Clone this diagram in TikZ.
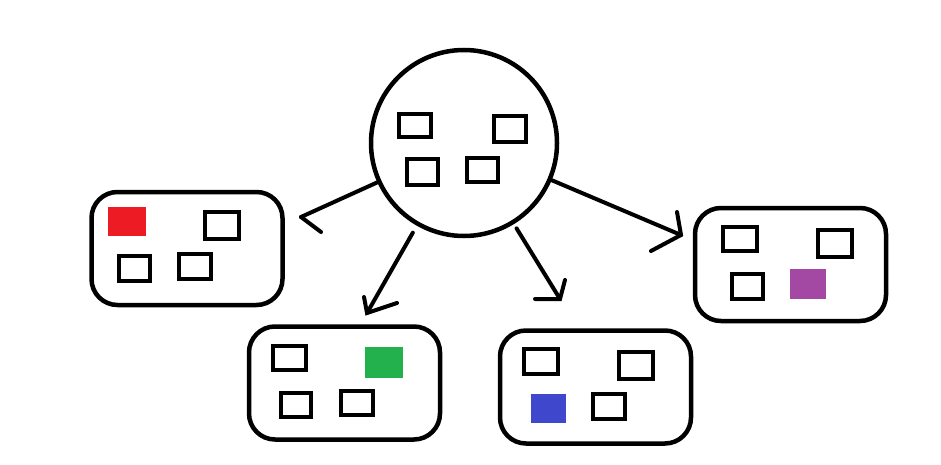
\documentclass[tikz,border=0pt]{standalone}
\definecolor{pred}{HTML}{ED1C24}
\definecolor{pgreen}{HTML}{22B14C}
\definecolor{pblue}{HTML}{3F48CC}
\definecolor{ppurple}{HTML}{A349A4}
\begin{document}
\begin{tikzpicture}[x=1pt,y=-1pt,
  hubnode/.style={circle,draw,line width=4.5pt,minimum size=186pt,inner sep=0pt},
  groupbox/.style={rectangle,draw,line width=4.5pt,rounded corners=26pt,minimum width=191pt,minimum height=113pt,inner sep=0pt},
  sq/.style={rectangle,draw,line width=4pt,inner sep=0pt},
  fillsq/.style={rectangle,inner sep=0pt,draw=none},
  conn/.style={line width=4pt,line cap=round},
  arm/.style={line width=4pt,line cap=round}]
\useasboundingbox (0,0) rectangle (941,465);
% hub
\node[hubnode] (hub) at (464,143) {};
\node[sq,minimum width=32pt,minimum height=23pt] (c1) at (415,125.5) {};
\node[sq,minimum width=32pt,minimum height=26pt] (c2) at (510,129) {};
\node[sq,minimum width=31pt,minimum height=26pt] (c3) at (422.5,172) {};
\node[sq,minimum width=31pt,minimum height=24pt] (c4) at (482.5,170) {};
% left box
\node[groupbox] (left) at (187,248.5) {};
\node[fillsq,fill=pred,minimum width=38pt,minimum height=29pt] (lred) at (127,221.5) {};
\node[sq,minimum width=34pt,minimum height=27pt] (l1) at (222,225.5) {};
\node[sq,minimum width=31pt,minimum height=25pt] (l2) at (134.5,268.5) {};
\node[sq,minimum width=32pt,minimum height=25pt] (l3) at (195,266.5) {};
% bottom-left box
\node[groupbox] (bleft) at (344.5,383) {};
\node[sq,minimum width=33pt,minimum height=24pt] (b1) at (289.5,358) {};
\node[fillsq,fill=pgreen,minimum width=38pt,minimum height=31pt] (bgreen) at (384,362.5) {};
\node[sq,minimum width=30pt,minimum height=24pt] (b2) at (296,405) {};
\node[sq,minimum width=32pt,minimum height=24pt] (b3) at (357,403) {};
% bottom-middle box
\node[groupbox] (bmid) at (595.5,387) {};
\node[sq,minimum width=34pt,minimum height=25pt] (m1) at (541,361.5) {};
\node[sq,minimum width=34pt,minimum height=27pt] (m2) at (636,365.5) {};
\node[fillsq,fill=pblue,minimum width=35pt,minimum height=29pt] (mblue) at (548.5,408.5) {};
\node[sq,minimum width=32pt,minimum height=25pt] (m3) at (609,406.5) {};
% right box
\node[groupbox] (right) at (790.5,264.5) {};
\node[sq,minimum width=34pt,minimum height=24pt] (r1) at (740,239) {};
\node[sq,minimum width=34pt,minimum height=27pt] (r2) at (835,243.5) {};
\node[sq,minimum width=31pt,minimum height=25pt] (r3) at (747.5,286.5) {};
\node[fillsq,fill=ppurple,minimum width=36pt,minimum height=30pt] (rpurple) at (808,284) {};
% arrow tips and arm ends
\coordinate (t1) at (301,217);
\coordinate (t1b) at (321,232);
\coordinate (t2) at (367,313);
\coordinate (t2a) at (364,297);
\coordinate (t2b) at (397,303);
\coordinate (t3) at (560,299);
\coordinate (t3a) at (565,280);
\coordinate (t3b) at (535,299);
\coordinate (t4) at (681,235);
\coordinate (t4a) at (677,212);
\coordinate (t4b) at (651,251);
% connectors
\draw[conn] (hub) -- (t1);
\draw[arm] (t1) -- (t1b);
\draw[conn,shorten <=8pt] (hub) -- (t2);
\draw[arm] (t2a) -- (t2) -- (t2b);
\draw[conn,shorten <=5pt] (hub) -- (t3);
\draw[arm] (t3a) -- (t3) -- (t3b);
\draw[conn] (hub) -- (t4);
\draw[arm] (t4a) -- (t4) -- (t4b);
\end{tikzpicture}
\end{document}
